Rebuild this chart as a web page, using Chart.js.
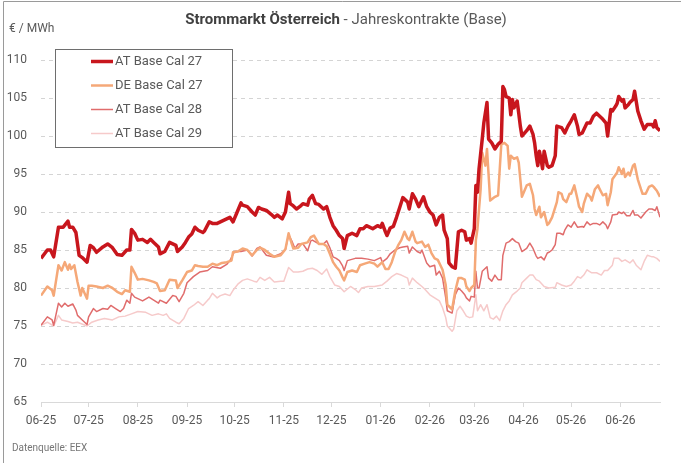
<!DOCTYPE html>
<html><head><meta charset="utf-8">
<script src="https://cdn.jsdelivr.net/npm/chart.js@4"></script>
<style>html,body{margin:0;padding:0;background:#fff;}canvas{display:block}</style>
</head><body>
<canvas id="c" width="681" height="463"></canvas>
<script>
// x values: days since 2025-06-01
const monthDays = [0,30,61,92,122,153,183,214,245,273,304,334,365];
const monthLabels = ['06-25','07-25','08-25','09-25','10-25','11-25','12-25','01-26','02-26','03-26','04-26','05-26','06-26'];
const seriesNames = ['AT Base Cal 27','DE Base Cal 27','AT Base Cal 28','AT Base Cal 29'];

const at27 = [[0,83.9],[4,85],[6,85],[8,84.1],[11,88],[14,88],[17,88.8],[18,88],[20,88],[22,87.3],[24,84.3],[26,84],[29,83.4],[31,85.6],[33,85.3],[35,84.7],[39,85.4],[42,85.8],[45,85.3],[48,84.4],[51,84.3],[54,85],[56,85],[57,87.7],[59,87.2],[61,86.3],[64,86.4],[67,86],[69,86.4],[71,86],[74,85.4],[75,84.5],[78,84.8],[81,86],[85,85.6],[86,84.8],[89,85.4],[91,86],[93,86.7],[95,87.1],[97,88],[99,87.6],[102,87.3],[103,87.5],[106,88.7],[108,88.5],[111,88.5],[113,88.7],[115,88.9],[117,89.1],[119,89.3],[121,88.7],[124,90.2],[126,91.2],[127,90.9],[130,90.7],[133,90],[135,89.6],[137,90.6],[139,90.4],[142,90.2],[145,89.7],[147,89.3],[149,89.6],[152,89.1],[154,90],[156,92.6],[157,91.1],[159,90.8],[161,90.4],[163,90.7],[165,91.1],[168,90.9],[169,91.7],[171,92.2],[173,91.1],[175,91],[178,90.4],[180,90.7],[182,89.3],[184,88.2],[186,87.6],[188,86.9],[190,86.5],[191,85.2],[193,86.9],[196,87.2],[199,86.9],[201,87.8],[203,87.8],[205,88.2],[207,88],[209,87.8],[212,88.2],[214,88],[215,88.5],[217,87.4],[218,86.9],[220,87.9],[222,88.1],[224,89.3],[226,90.6],[228,91.9],[231,91.3],[232,90.4],[234,92.4],[236,91.7],[238,90.7],[241,92],[243,90.7],[245,90],[247,89.6],[249,88.3],[251,89.3],[253,89.6],[254,87.6],[256,86.5],[257,83.3],[259,82.8],[261,82.6],[263,87.4],[265,87.6],[267,87.4],[268,86.3],[270,86.5],[271,85.9],[273,87.8],[274,93.5],[275,92.6],[276,95.7],[278,99.6],[279,101.7],[281,104.4],[282,99.6],[284,99.1],[286,98.3],[288,98.9],[290,99.3],[291,106.5],[292,106.1],[293,105.2],[295,105],[296,102.8],[297,104.8],[298,103.7],[300,104.6],[301,103],[302,101.3],[303,100],[306,100.7],[308,101.3],[310,100.2],[311,99.1],[312,97.4],[313,96.1],[314,98],[315,97],[316,95.7],[317,98],[319,96.1],[320,95.9],[322,96.1],[324,97.4],[325,101.3],[328,101.1],[330,100.4],[332,101.3],[334,102],[336,102.8],[338,101.3],[339,100.2],[341,100.4],[344,101.7],[346,101.7],[348,102.6],[350,103],[352,102.6],[354,102.2],[356,101.7],[357,100],[359,103.5],[360,103.3],[362,103.9],[363,104.3],[364,105.2],[366,104.6],[367,104.8],[368,103.7],[370,104.1],[371,104.4],[373,104.8],[374,105.9],[376,103.3],[378,102],[380,100.9],[382,101.5],[385,101.5],[386,101.2],[387,102],[388,101.1],[390,100.7]];

const de27 = [[0,79],[4,80.2],[7,79.7],[8,79],[11,83],[13,82.3],[15,83.4],[17,82.4],[18,83.1],[19,82.5],[21,83],[23,80.8],[25,79],[26,80],[29,78.6],[30,80.3],[32,80.3],[35,80.2],[39,80],[42,80.3],[45,80],[48,79.5],[51,79.2],[53,79.7],[56,79.5],[57,82.8],[59,82],[61,81.1],[64,81.2],[68,81],[71,80.8],[73,80.6],[75,79.6],[78,79.7],[81,81.1],[85,81],[86,80],[89,81],[92,82.1],[95,82.3],[97,83],[99,82.9],[102,82.8],[105,82.8],[108,83.2],[111,83],[114,83.3],[117,83.4],[120,83.6],[121,84.7],[124,84.8],[127,85.2],[130,85],[133,84.3],[136,85],[138,85.3],[141,85],[144,84.5],[147,84.1],[151,84.3],[154,85.1],[156,87.2],[158,85.8],[159,85.2],[162,85.3],[164,85.8],[168,86],[170,86.7],[172,86.9],[175,85.8],[178,85.8],[180,85.5],[182,84.5],[184,83.4],[186,82.8],[188,82.3],[190,81.4],[191,81],[193,82.1],[196,82.3],[199,82.1],[201,83],[204,83.2],[207,83.4],[210,83.2],[212,82.8],[215,83.4],[217,82.5],[219,82.5],[221,83.4],[223,84.7],[225,85.6],[227,86.3],[229,87.4],[231,86.5],[232,86.3],[234,87.4],[236,86.1],[237,85.9],[240,86.1],[242,85.4],[244,85.7],[246,84.6],[248,83.9],[250,83.7],[253,82.4],[255,80.4],[256,77.8],[258,77.4],[259,77.2],[261,79.6],[263,81.3],[265,81.3],[267,81.1],[268,80.2],[270,79.6],[271,80],[273,80.4],[274,86.3],[275,87.8],[277,93],[278,97.8],[280,96.1],[281,98.3],[283,91.5],[286,92],[288,92.2],[290,98.9],[292,99.1],[294,98.7],[295,95.7],[296,97.4],[298,97],[300,97.2],[301,96.5],[302,94.3],[303,92],[306,93.5],[308,93.7],[310,92.2],[311,90.4],[312,89.6],[314,90.7],[315,89.3],[317,90],[319,88.3],[320,88.5],[322,89.3],[325,91.3],[326,92.6],[328,92.4],[329,91.7],[331,91.3],[333,92.4],[334,92.4],[336,93.5],[338,91.7],[339,90.7],[341,90],[342,91.1],[344,92.4],[346,92],[347,91.5],[349,93],[351,93.5],[352,93],[354,92.2],[356,92.4],[357,90.9],[359,92.6],[360,94.3],[363,95.2],[364,95.9],[366,95],[367,95.7],[368,94.6],[370,95.2],[371,94.8],[373,96.1],[374,96.3],[376,94.3],[378,93],[379,92.4],[381,92.4],[383,93.3],[385,93.5],[386,93.3],[388,92.8],[390,92]];

const at28 = [[0,75.1],[4,76.2],[7,75.8],[8,75.1],[11,78],[13,77.5],[15,78],[17,77.6],[20,77.9],[22,77.1],[23,76.4],[26,75.8],[29,75.2],[30,76.2],[33,77.3],[35,76.9],[39,77.3],[42,77.2],[44,77.7],[47,77.3],[50,76.9],[52,77.3],[54,78.4],[56,78],[57,79.3],[59,78.8],[61,78.6],[64,78.3],[68,78.8],[71,78.4],[74,78],[75,78.4],[79,78],[83,79],[85,78.9],[87,78.2],[90,79.3],[92,80.7],[96,81.5],[100,82.1],[105,82.3],[108,82.8],[113,82.6],[117,83.1],[119,83.6],[122,84.8],[126,84.8],[130,85],[133,84.2],[136,85.2],[138,85.4],[142,84.3],[146,84.1],[151,84.5],[154,85.1],[156,87],[158,86.2],[160,85.2],[162,85.8],[165,85.8],[168,84.9],[170,86.2],[171,86.3],[175,85.8],[178,85.8],[180,86.2],[182,85.3],[184,84.1],[186,83.9],[188,83.6],[190,82.9],[191,82.3],[193,83.6],[198,83.9],[202,83.9],[206,83.8],[210,83.6],[214,84],[215,83.4],[218,83.9],[220,84.5],[223,85],[226,85.3],[228,85.4],[231,85.5],[232,84.6],[234,85.4],[237,84.8],[239,84.6],[240,85],[243,83.3],[245,82.8],[248,83],[249,81.7],[251,82.2],[253,81.3],[255,78.7],[256,77],[259,76.7],[261,79.1],[263,80],[265,79.6],[267,79.1],[268,78.7],[270,78.3],[271,78.9],[273,78.8],[274,82.2],[275,80],[276,80],[278,82.2],[281,82.8],[282,81.3],[284,80.9],[286,81.7],[288,81.1],[290,81.1],[291,84.3],[293,85.9],[295,86.1],[297,86.5],[299,86.1],[301,85.9],[303,84.8],[306,85.2],[308,85.9],[310,85.2],[312,84.2],[313,83.9],[315,84.1],[317,83.7],[319,84.6],[320,84.7],[322,85],[324,85.7],[325,87.2],[327,87.2],[329,87],[330,87.6],[332,88.3],[334,88],[336,88.7],[338,88],[341,88.1],[342,88],[344,88.7],[346,88.3],[348,88.5],[350,88.5],[352,88.3],[354,88.7],[356,88.3],[357,87.8],[359,88.7],[360,89.6],[363,89.7],[364,90],[366,89.8],[367,90],[369,89.5],[371,89.5],[373,90.2],[374,89.6],[376,89.6],[378,89.2],[381,90],[383,90.4],[385,90.4],[387,90.2],[388,90.7],[390,89.3]];

const at29 = [[0,75.1],[4,75.5],[8,75],[11,76.4],[13,75.8],[17,75.6],[20,75.4],[23,75.5],[29,75],[32,75.5],[36,75.8],[40,76],[45,75.8],[49,76.2],[53,76.3],[57,76.6],[61,76.9],[66,76.8],[70,76.4],[74,76.6],[77,76.4],[79,76.6],[81,76],[85,75.5],[87,75.3],[90,76],[93,77.3],[96,77.7],[99,78.2],[102,77.7],[105,78.4],[106,78.6],[108,79.3],[111,78.7],[113,79],[116,79.2],[119,79],[121,79.7],[124,80.5],[127,81],[130,81.2],[134,80.9],[136,80.8],[138,81.4],[141,81],[144,81.4],[147,80.8],[151,80.9],[153,80.9],[156,82.7],[159,82.1],[162,82.1],[165,82.2],[168,82.5],[171,82.6],[174,82.3],[177,81.8],[180,82.5],[182,81.5],[185,80.4],[188,80.2],[191,79.5],[195,80.2],[198,79.8],[200,79.4],[202,80],[206,80.2],[210,80.2],[215,80.4],[218,80.9],[221,81.5],[224,81.9],[227,81.7],[231,81.3],[232,80.4],[234,81.3],[237,80.7],[240,80.2],[242,79.8],[245,79.1],[248,78.7],[251,78.3],[253,77.4],[255,76.1],[256,75],[259,74.3],[260,74.6],[262,77],[264,77.6],[266,77],[268,76.3],[270,76.1],[272,76.2],[274,79.1],[275,77],[277,77.8],[279,77],[281,77.8],[283,76.1],[285,75.9],[287,76.3],[289,75.7],[291,77],[293,77.8],[295,78.3],[297,79.1],[300,79.6],[302,80],[303,80.7],[306,81.3],[308,81.7],[310,81.7],[312,81.1],[314,80.9],[317,80.2],[320,80],[324,80.1],[325,80.7],[328,80.4],[331,80.2],[334,80.4],[336,80.9],[338,81.5],[340,81.3],[342,81.7],[344,82.4],[347,82],[350,82],[353,81.7],[355,82.3],[357,82.3],[360,83],[361,83.9],[364,83.9],[366,83.5],[368,83.7],[371,83.3],[373,83.7],[375,83],[378,82.4],[380,83.5],[382,84.3],[385,84.1],[386,84.1],[388,83.9],[390,83.5]];

const FONT = 'Roboto, "Open Sans", sans-serif';
const TXT = '#595959';
const toXY = arr => arr.map(p => ({x: p[0], y: p[1]}));

const decor = {
  id: 'decor',
  beforeDraw(chart) {
    const ctx = chart.ctx;
    ctx.save();
    ctx.fillStyle = '#fff';
    ctx.fillRect(0, 0, chart.width, chart.height);
    ctx.strokeStyle = '#9a9a9a';
    ctx.lineWidth = 1;
    ctx.beginPath();
    ctx.moveTo(3.5, 463); ctx.lineTo(3.5, 1.5); ctx.lineTo(681, 1.5);
    ctx.stroke();
    // title
    const t1 = 'Strommarkt Österreich', t2 = ' - Jahreskontrakte (Base)';
    ctx.textBaseline = 'middle';
    ctx.font = 'bold 15px ' + FONT;
    const w1 = ctx.measureText(t1).width;
    ctx.font = '15px ' + FONT;
    const w2 = ctx.measureText(t2).width;
    const x0 = 346 - (w1 + w2) / 2;
    ctx.font = 'bold 15px ' + FONT;
    ctx.fillStyle = '#404040';
    ctx.textAlign = 'left';
    ctx.fillText(t1, x0, 20);
    ctx.font = '15px ' + FONT;
    ctx.fillStyle = TXT;
    ctx.fillText(t2, x0 + w1, 20);
    // unit
    ctx.font = '12px ' + FONT;
    ctx.fillText('€ / MWh', 9, 29);
    // source
    ctx.font = '10px ' + FONT;
    ctx.fillStyle = '#777';
    ctx.fillText('Datenquelle: EEX', 12, 448);
    ctx.restore();
  },
  afterDraw(chart) {
    const ctx = chart.ctx;
    ctx.save();
    ctx.fillStyle = '#fff';
    ctx.fillRect(55, 49, 177, 98);
    ctx.strokeStyle = '#6e6e6e';
    ctx.lineWidth = 1;
    ctx.strokeRect(55.5, 49.5, 177, 98);
    ctx.font = '13px ' + FONT;
    ctx.textBaseline = 'middle';
    ctx.textAlign = 'left';
    chart.data.datasets.forEach((ds, i) => {
      const y = 61.5 + i * 24;
      ctx.strokeStyle = ds.borderColor;
      ctx.lineWidth = ds.borderWidth;
      ctx.beginPath(); ctx.moveTo(91, y); ctx.lineTo(113, y); ctx.stroke();
      ctx.fillStyle = TXT;
      ctx.fillText(ds.label, 115, y);
    });
    ctx.restore();
  }
};

new Chart(document.getElementById('c'), {
  type: 'line',
  data: {
    datasets: [
      {label: seriesNames[0], data: toXY(at27), borderColor: '#c8161d', borderWidth: 3.5},
      {label: seriesNames[1], data: toXY(de27), borderColor: '#f5a878', borderWidth: 2.5},
      {label: seriesNames[2], data: toXY(at28), borderColor: '#e06c6c', borderWidth: 1.5},
      {label: seriesNames[3], data: toXY(at29), borderColor: '#f6caca', borderWidth: 1.5}
    ].map(d => Object.assign(d, {pointRadius: 0, tension: 0, fill: false, borderJoinStyle: 'round'}))
  },
  options: {
    responsive: false,
    animation: false,
    layout: {padding: {top: 60, left: 0, right: 21, bottom: 25}},
    plugins: {legend: {display: false}, title: {display: false}, tooltip: {enabled: false}},
    scales: {
      x: {
        type: 'linear', min: 0, max: 390,
        afterBuildTicks: s => { s.ticks = monthDays.map(v => ({value: v})); },
        afterFit: s => { s.height = 36; },
        ticks: {
          autoSkip: false, maxRotation: 0, minRotation: 0, padding: 7,
          color: TXT, font: {family: FONT, size: 12},
          callback: v => { const i = monthDays.indexOf(v); return i >= 0 ? monthLabels[i] : ''; }
        },
        grid: {drawOnChartArea: false, drawTicks: true, tickLength: 5, color: '#d9d9d9'},
        border: {display: true, color: '#d9d9d9'}
      },
      y: {
        min: 65, max: 110,
        afterFit: s => { s.width = 41; },
        ticks: {stepSize: 5, padding: 14, color: TXT, font: {family: FONT, size: 12}},
        grid: {color: '#d4d4d4', drawTicks: false},
        border: {display: false, dash: [4, 4]}
      }
    }
  },
  plugins: [decor]
});
</script>
</body></html>
